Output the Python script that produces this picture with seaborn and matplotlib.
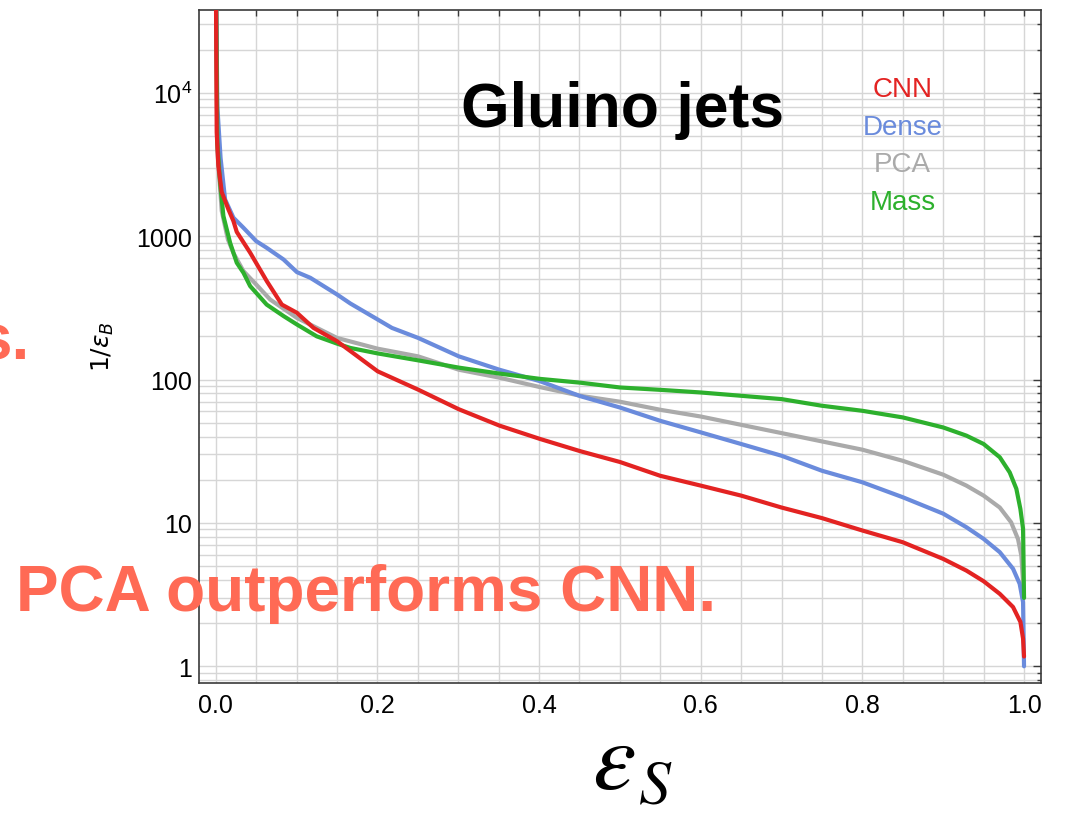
import numpy as np
import pandas as pd
import matplotlib
matplotlib.use("Agg")
import matplotlib.pyplot as plt
from matplotlib.ticker import FixedLocator, FixedFormatter, LogLocator, NullFormatter
import seaborn as sns

# ---------------- data ----------------
cnn_eps = [0.0, 0.0012, 0.0032, 0.0074, 0.0157, 0.0219, 0.026, 0.0426, 0.0632, 0.0818,
           0.1004, 0.121, 0.15, 0.1665, 0.2004, 0.2504, 0.3008, 0.351, 0.4012, 0.4512,
           0.5, 0.55, 0.6, 0.65, 0.7, 0.75, 0.8, 0.85, 0.9, 0.9287, 0.95, 0.97, 0.9864,
           0.9955, 0.9988, 1.0]
cnn_inv = [1e5, 5300, 3100, 2030, 1535, 1273, 1070, 766, 485, 333,
           292, 229, 185, 158, 114, 85, 62, 47.7, 38.5, 31.6,
           26.6, 21.3, 18.2, 15.5, 12.8, 10.8, 8.85, 7.33, 5.61, 4.65, 3.92, 3.2, 2.59,
           2.04, 1.56, 1.17]

dense_eps = [0.0, 0.002, 0.006, 0.0116, 0.0219, 0.0343, 0.05, 0.063, 0.0839, 0.1004,
             0.117, 0.15, 0.1665, 0.2004, 0.218, 0.2504, 0.3008, 0.351, 0.4012, 0.4512,
             0.5, 0.55, 0.6, 0.65, 0.7, 0.75, 0.8, 0.85, 0.9, 0.9287, 0.95, 0.97, 0.9864,
             0.9946, 0.9988, 1.0]
dense_inv = [1e5, 8000, 3500, 1800, 1343, 1143, 923, 829, 687, 561,
             512, 392, 339, 262, 229, 195, 145, 117, 97.3, 76.5,
             63.8, 51.5, 42.8, 35.5, 29.4, 23.1, 19.2, 15.1, 11.6, 9.33, 7.74, 6.25, 4.79,
             3.76, 2.8, 1.0]

pca_eps = [0.0, 0.002, 0.0074, 0.015, 0.022, 0.0343, 0.05, 0.0674, 0.1004, 0.15,
           0.2004, 0.2504, 0.3008, 0.351, 0.4012, 0.4512, 0.5, 0.55, 0.6, 0.65,
           0.7, 0.75, 0.8, 0.85, 0.9, 0.9287, 0.95, 0.97, 0.984, 0.9926, 0.9967, 1.0]
pca_inv = [1e5, 4000, 1500, 950, 760, 570, 460, 361, 269, 195,
           164, 145, 117, 103, 88.5, 77, 70, 61.5, 55.2, 48.3,
           42.3, 37, 32.4, 27.1, 21.7, 18.2, 15.5, 12.8, 10.1, 7.7, 5.9, 3.0]

mass_eps = [0.0, 0.002, 0.0054, 0.0095, 0.0178, 0.026, 0.0343, 0.0426, 0.063, 0.0839,
            0.1004, 0.125, 0.15, 0.1665, 0.2004, 0.2504, 0.3008, 0.351, 0.4012, 0.4512,
            0.5, 0.55, 0.6, 0.65, 0.7, 0.75, 0.8, 0.85, 0.9, 0.9287, 0.95, 0.97, 0.9823,
            0.9905, 0.9955, 0.9988, 1.0]
mass_inv = [1e5, 4500, 2355, 1380, 898, 652, 555, 448, 333, 277,
            242, 200, 178, 166, 152, 136, 121, 110, 101, 95,
            88, 84.7, 81.2, 77, 73, 65.6, 60.5, 54.4, 46.3, 40.6, 35.5, 28.7, 22.5,
            17.3, 12.5, 9.1, 3.0]

series_names = ["CNN", "Dense", "PCA", "Mass"]
series_colors = ["#E32322", "#6A8BDC", "#AAAAAA", "#2DB02D"]
series_z = [5, 3, 2, 4]

x_tick_values = [0.0, 0.2, 0.4, 0.6, 0.8, 1.0]
x_tick_labels = ["0.0", "0.2", "0.4", "0.6", "0.8", "1.0"]
y_tick_values = [1, 10, 100, 1000, 10000]
y_tick_labels = ["1", "10", "100", "1000", r"$10^{4}$"]

title_text = "Gluino jets"
overlay_text = "PCA outperforms CNN."
overlay_tail = "s."

# ---------------- style ----------------
sns.set_theme(style="white")
plt.rcParams["font.family"] = ["Liberation Sans", "DejaVu Sans"]
plt.rcParams["mathtext.fontset"] = "custom"
plt.rcParams["mathtext.rm"] = "Liberation Sans"
plt.rcParams["mathtext.it"] = "Liberation Sans:italic"
plt.rcParams["mathtext.bf"] = "Liberation Sans:bold"
plt.rcParams["mathtext.fallback"] = "stixsans"

W, H = 1069, 820
fig = plt.figure(figsize=(W / 100, H / 100), dpi=100)
fig.patch.set_facecolor("white")

def fx(px):
    return px / W

def fy(py):
    return 1 - py / H

ax = fig.add_axes([fx(199), fy(684.3), fx(1041) - fx(199), fy(10.5) - fy(684.3)])
ax.set_facecolor("white")

data = {
    "CNN": (cnn_eps, cnn_inv),
    "Dense": (dense_eps, dense_inv),
    "PCA": (pca_eps, pca_inv),
    "Mass": (mass_eps, mass_inv),
}
for name, color, z in zip(series_names, series_colors, series_z):
    e, v = data[name]
    df = pd.DataFrame({"eps": e, "inv": v})
    sns.lineplot(data=df, x="eps", y="inv", color=color, lw=3.0, ax=ax,
                 estimator=None, sort=False, zorder=z)

ax.set_yscale("log")
ax.set_xlim(-0.0207, 1.021)
ax.set_ylim(0.761, 38050)

ax.xaxis.set_major_locator(FixedLocator(x_tick_values))
ax.xaxis.set_major_formatter(FixedFormatter(x_tick_labels))
ax.xaxis.set_minor_locator(FixedLocator(list(np.arange(0, 1.0001, 0.05))))
ax.yaxis.set_major_locator(FixedLocator(y_tick_values))
ax.yaxis.set_major_formatter(FixedFormatter(y_tick_labels))
ax.yaxis.set_minor_locator(LogLocator(base=10, subs=np.arange(2, 10), numticks=50))
ax.yaxis.set_minor_formatter(NullFormatter())

ax.grid(True, which="both", color="#d6d6d6", lw=1.0)
ax.set_axisbelow(True)

for s in ax.spines.values():
    s.set_color("#3a3a3a")
    s.set_linewidth(1.2)

ax.tick_params(axis="both", which="both", direction="in", top=True, right=True,
               color="#3a3a3a", width=1.0, labelcolor="black")
ax.tick_params(axis="x", which="both", length=4.5, labelsize=18, pad=7)
ax.tick_params(axis="y", which="major", length=5.5, labelsize=18, pad=5)
ax.tick_params(axis="y", which="minor", length=3)
ax.set_xlabel("")
ax.set_ylabel("")

# title inside the plot
fig.text(fx(622.5), fy(126.7), title_text, ha="center", va="baseline",
         fontsize=45, fontweight="bold", color="black")

# legend as coloured text
legend_baselines = [97, 135, 171.7, 210]
for name, color, b in zip(series_names, series_colors, legend_baselines):
    fig.text(fx(902.5), fy(b), name, ha="center", va="baseline", fontsize=20, color=color)

# axis labels
fig.text(fx(103), fy(347), r"$1/\epsilon_B$", ha="center", va="center", rotation=90,
         fontsize=18, color="black", math_fontfamily="dejavusans")
fig.text(fx(592), fy(789), r"$\varepsilon$", ha="left", va="baseline",
         fontsize=70, color="black", math_fontfamily="stix")
fig.text(fx(638), fy(804), r"$S$", ha="left", va="baseline",
         fontsize=46, color="black", math_fontfamily="stix")

# overlay annotation text
overlay_color = "#FF6A55"
fig.text(fx(16), fy(610.7), overlay_text, ha="left", va="baseline", fontsize=46,
         fontweight="bold", color=overlay_color, zorder=10)
fig.text(fx(29.5), fy(360), overlay_tail, ha="right", va="baseline", fontsize=46,
         fontweight="bold", color=overlay_color, zorder=10)

fig.savefig("out.png", dpi=100, facecolor="white")
